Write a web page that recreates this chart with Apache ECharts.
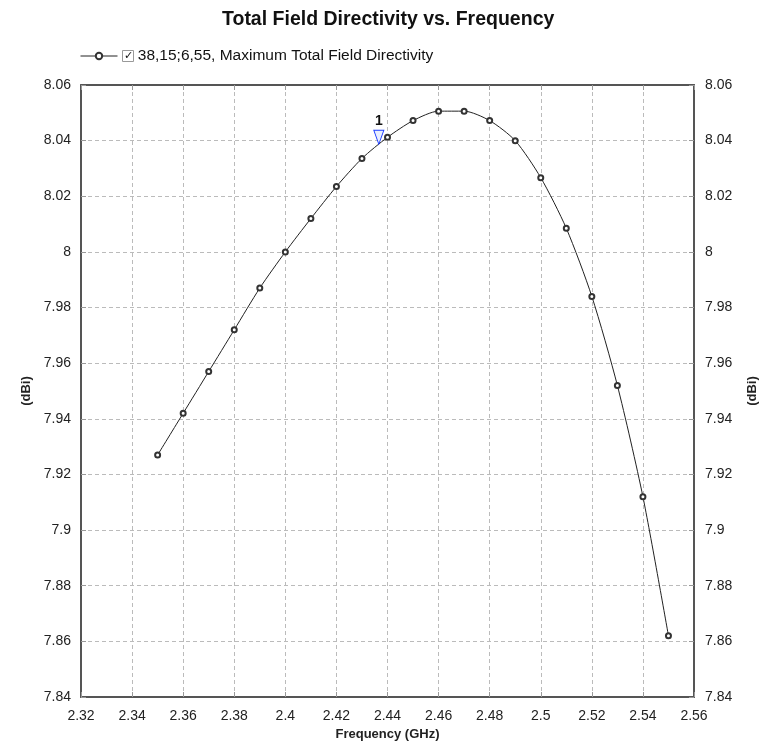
<!DOCTYPE html>
<html>
<head>
<meta charset="utf-8">
<style>
  html, body { margin: 0; padding: 0; background: #fff; overflow: hidden; }
  #chart { width: 761px; height: 750px; }
</style>
<script src="https://cdn.jsdelivr.net/npm/echarts@6/dist/echarts.min.js"></script>
</head>
<body>
<div id="chart"></div>
<script>
// Frequency sweep (GHz) and maximum total field directivity (dBi)
const frequencies = [2.35, 2.36, 2.37, 2.38, 2.39, 2.40, 2.41, 2.42, 2.43, 2.44, 2.45,
                     2.46, 2.47, 2.48, 2.49, 2.50, 2.51, 2.52, 2.53, 2.54, 2.55];
const directivity = [7.927, 7.942, 7.957, 7.972, 7.987, 8.000, 8.012, 8.0235, 8.0336, 8.0412, 8.0472,
                     8.0506, 8.0506, 8.0472, 8.040, 8.0267, 8.0085, 7.984, 7.952, 7.912, 7.862];
const seriesName = '38,15;6,55, Maximum Total Field Directivity';
// Marker 1 placed on the trace
const marker = { label: '1', freq: 2.4366, value: 8.0387 };

const fmt = v => String(+(+v).toFixed(2));
const FONT = '"Liberation Sans", Arial, sans-serif';

const gridLine = { show: true, lineStyle: { color: '#bbb', width: 1, type: [4, 3] } };
const axisLine = { show: true, lineStyle: { color: '#555', width: 2 } };
const axisTick = { show: true, inside: true, length: 5, lineStyle: { color: '#999' } };
const tickLabel = { color: '#222', fontSize: 14, fontFamily: FONT, formatter: fmt };
const nameStyle = { color: '#222', fontSize: 13, fontWeight: 'bold', fontFamily: FONT };

const chart = echarts.init(document.getElementById('chart'), null, { renderer: 'canvas', width: 761, height: 750 });
chart.setOption({
  backgroundColor: '#fff',
  animation: false,
  title: {
    text: 'Total Field Directivity vs. Frequency',
    left: 222, top: 10, padding: 0,
    textStyle: { fontSize: 19.5, fontWeight: 'bold', color: '#111', fontFamily: FONT }
  },
  legend: {
    left: 80, top: 48, padding: 0,
    itemWidth: 37, itemHeight: 8, itemGap: 4,
    data: [seriesName],
    lineStyle: { width: 1 },
    itemStyle: { borderWidth: 1 },
    formatter: name => '{box|✓} ' + name,
    textStyle: {
      color: '#111', fontSize: 15.5, fontFamily: FONT,
      rich: {
        box: {
          width: 11, height: 11, lineHeight: 11, align: 'center',
          borderColor: '#999', borderWidth: 1, fontSize: 11,
          color: '#111', fontFamily: FONT
        }
      }
    }
  },
  grid: { left: 81, right: 67, top: 85, bottom: 53, containLabel: false, outerBoundsMode: 'none' },
  xAxis: [
    {
      type: 'value', min: 2.32, max: 2.56, interval: 0.02,
      name: 'Frequency (GHz)', nameLocation: 'middle', nameGap: 30, nameTextStyle: nameStyle,
      axisLine, axisTick, splitLine: gridLine,
      axisLabel: Object.assign({ margin: 12 }, tickLabel)
    },
    {
      type: 'value', position: 'top', min: 2.32, max: 2.56, interval: 0.02,
      axisLine, axisTick, splitLine: { show: false }, axisLabel: { show: false }
    }
  ],
  yAxis: [
    {
      type: 'value', min: 7.84, max: 8.06, interval: 0.02,
      name: '(dBi)', nameLocation: 'middle', nameGap: 46, nameRotate: 90, nameTextStyle: nameStyle,
      axisLine, axisTick, splitLine: gridLine,
      axisLabel: Object.assign({ margin: 10 }, tickLabel)
    },
    {
      type: 'value', position: 'right', min: 7.84, max: 8.06, interval: 0.02,
      name: '(dBi)', nameLocation: 'middle', nameGap: 52, nameRotate: 90, nameTextStyle: nameStyle,
      axisLine, axisTick, splitLine: { show: false },
      axisLabel: Object.assign({ margin: 11 }, tickLabel)
    }
  ],
  series: [
    {
      name: seriesName,
      type: 'line',
      data: frequencies.map((f, i) => [f, directivity[i]]),
      smooth: 0.25,
      symbol: 'emptyCircle', symbolSize: 5, showSymbol: true,
      lineStyle: { color: '#222', width: 1 },
      itemStyle: { color: '#333', borderColor: '#333', borderWidth: 1 },
      markPoint: {
        symbol: 'path://M0,0L10,0L5,14Z',
        symbolSize: [10, 14],
        symbolOffset: [0, -7],
        itemStyle: { color: '#e8eeff', borderColor: '#1a3cff', borderWidth: 1 },
        label: {
          show: true, position: 'top', distance: 2,
          formatter: () => marker.label,
          color: '#111', fontSize: 14, fontWeight: 'bold', fontFamily: FONT
        },
        data: [{ coord: [marker.freq, marker.value] }]
      }
    }
  ]
});
</script>
</body>
</html>
